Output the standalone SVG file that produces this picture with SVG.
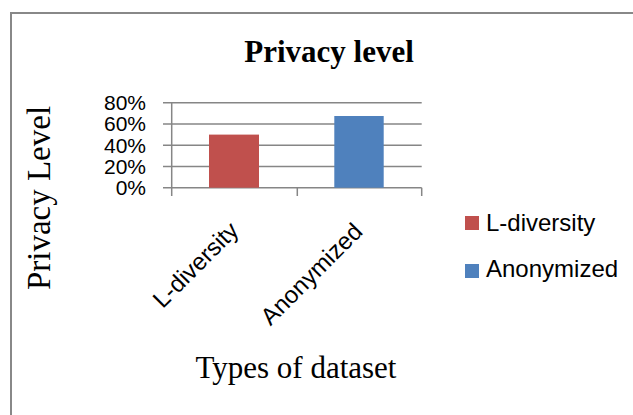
<svg xmlns="http://www.w3.org/2000/svg" width="633" height="415" viewBox="0 0 633 415">
<style>
.serif{font-family:"Liberation Serif","Times New Roman",serif;fill:#000}
.sans{font-family:"Liberation Sans",Arial,sans-serif;fill:#000}
.grid{stroke:#868686;stroke-width:1.5;fill:none}
.tick{font-size:21px;text-anchor:end}
.cat{font-size:24px;text-anchor:end}
.leg{font-size:24px}
</style>
<rect x="0" y="0" width="633" height="415" fill="#fff"/>
<path d="M11 420 V13 H640" fill="none" stroke="#888" stroke-width="2"/>
<g id="title"><text class="serif" x="329" y="62" font-size="31" font-weight="bold" text-anchor="middle">Privacy level</text></g>
<g id="y-axis-title"><text class="serif" font-size="33" text-anchor="middle" transform="translate(50,198) rotate(-90)">Privacy Level</text></g>
<g id="x-axis-title"><text class="serif" x="296" y="378" font-size="31" text-anchor="middle">Types of dataset</text></g>
<g id="gridlines">
<path class="grid" d="M163 102.7 H421.7 M163 124 H421.7 M163 145.2 H421.7 M163 166.5 H421.7 M163 187.7 H421.7"/>
<path class="grid" d="M171.7 102.7 V196 M297.3 187.7 V196 M421.7 187.7 V196"/>
</g>
<g id="y-ticks">
<text class="sans tick" x="146" y="110">80%</text>
<text class="sans tick" x="146" y="131">60%</text>
<text class="sans tick" x="146" y="152.5">40%</text>
<text class="sans tick" x="146" y="173.5">20%</text>
<text class="sans tick" x="146" y="195">0%</text>
</g>
<g id="bar-l-diversity"><rect x="209" y="134.6" width="50" height="53.1" fill="#C0504D"/></g>
<g id="bar-anonymized"><rect x="334.3" y="116" width="49.4" height="71.7" fill="#4F81BD"/></g>
<g id="category-labels">
<text class="sans cat" transform="translate(240,232) rotate(-45)">L-diversity</text>
<text class="sans cat" transform="translate(364,233) rotate(-45)">Anonymized</text>
</g>
<g id="legend">
<g id="legend-l-diversity"><rect x="465" y="216" width="14" height="14" fill="#C0504D"/><text class="sans leg" x="486" y="231">L-diversity</text></g>
<g id="legend-anonymized"><rect x="465" y="264" width="14" height="14" fill="#4F81BD"/><text class="sans leg" x="486" y="277">Anonymized</text></g>
</g>
</svg>
